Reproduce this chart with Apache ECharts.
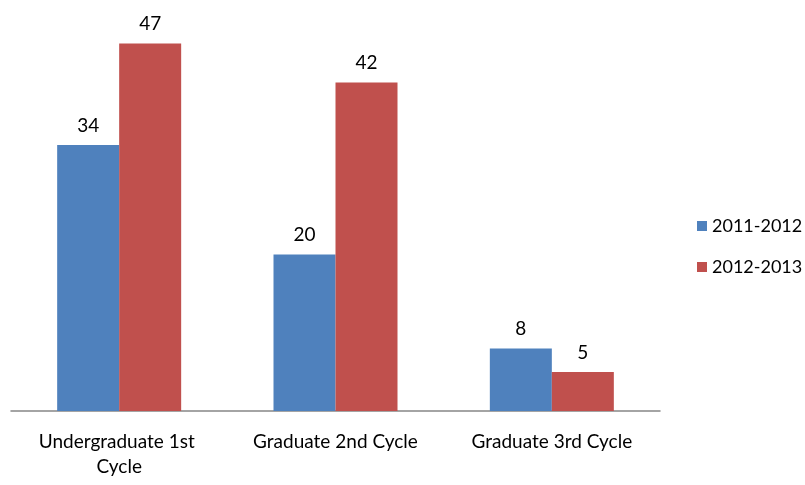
<!DOCTYPE html>
<html>
<head>
<meta charset="utf-8">
<script src="https://cdn.jsdelivr.net/npm/echarts@6/dist/echarts.min.js"></script>
<style>
  html, body { margin: 0; padding: 0; background: #fff; }
  #chart { width: 805px; height: 485px; }
</style>
</head>
<body>
<div id="chart"></div>
<script>
// Enrolment counts by study cycle, two academic years
const categories = ['Undergraduate 1st Cycle', 'Graduate 2nd Cycle', 'Graduate 3rd Cycle'];
const years = ['2011-2012', '2012-2013'];
const values2011 = [34, 20, 8];
const values2012 = [47, 42, 5];
const colors = ['#4F81BD', '#C0504D'];

const FONT = 'Lato, "Open Sans", sans-serif';
const FS = 19;

const chart = echarts.init(document.getElementById('chart'), null, { renderer: 'canvas' });

const barLabel = {
  show: true,
  position: 'top',
  distance: 10,
  fontFamily: FONT,
  fontSize: FS,
  color: '#000'
};

chart.setOption({
  animation: false,
  textStyle: { fontFamily: FONT },
  grid: { left: 11, right: 145, top: 20, bottom: 74, containLabel: false },
  legend: {
    orient: 'vertical',
    left: 692,
    top: 212,
    itemWidth: 10,
    itemHeight: 10,
    itemGap: 23,
    itemStyle: { borderWidth: 0 },
    icon: 'rect',
    textStyle: { fontFamily: FONT, fontSize: 18, color: '#000' },
    data: years
  },
  xAxis: {
    type: 'category',
    data: categories,
    axisLine: { lineStyle: { color: '#868686', width: 1.5 } },
    axisTick: { show: false },
    axisLabel: {
      fontFamily: FONT,
      fontSize: FS,
      color: '#000',
      margin: 18,
      lineHeight: 25,
      width: 200,
      overflow: 'break',
      interval: 0
    }
  },
  yAxis: {
    type: 'value',
    min: 0,
    max: 50,
    show: false,
    splitLine: { show: false }
  },
  series: [
    {
      name: years[0],
      type: 'bar',
      data: values2011,
      barWidth: 62,
      barGap: '0%',
      itemStyle: { color: colors[0] },
      label: barLabel
    },
    {
      name: years[1],
      type: 'bar',
      data: values2012,
      barWidth: 62,
      barGap: '0%',
      itemStyle: { color: colors[1] },
      label: barLabel
    }
  ]
});
</script>
</body>
</html>
